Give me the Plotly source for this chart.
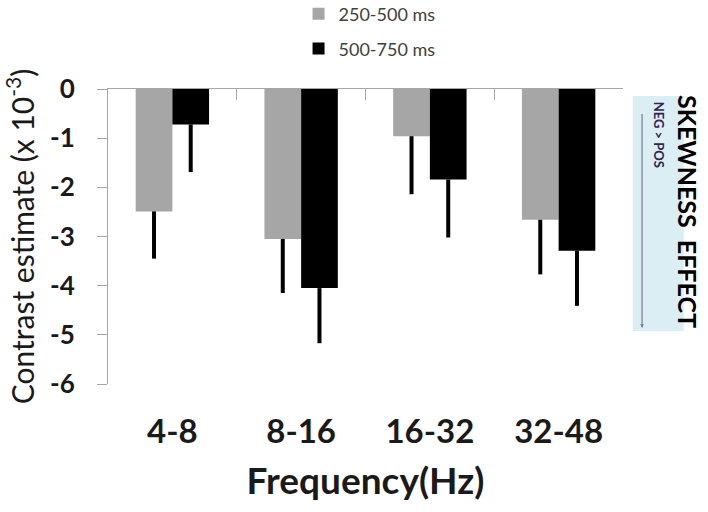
import plotly.graph_objects as go

categories = ["4-8", "8-16", "16-32", "32-48"]
series_names = ["250-500 ms", "500-750 ms"]
early_values = [-2.49, -3.05, -0.96, -2.66]
early_err = [0.96, 1.10, 1.18, 1.11]
late_values = [-0.72, -4.05, -1.84, -3.29]
late_err = [0.97, 1.12, 1.18, 1.12]
y_ticks = [0, -1, -2, -3, -4, -5, -6]
y_tick_labels = ["0", "-1", "-2", "-3", "-4", "-5", "-6"]
boundaries = [-0.5, 0.5, 1.5, 2.5, 3.5]

FONT = "Lato"
AXIS_GRAY = "#a6a6a6"
TXT = "#1a1a1a"

fig = go.Figure()
fig.add_trace(go.Bar(
    x=categories, y=early_values, name=series_names[0],
    marker=dict(color="#a6a6a6", line=dict(width=0)),
    error_y=dict(type="data", symmetric=False, array=[0]*4, arrayminus=early_err,
                 color="black", thickness=4, width=0),
    legend="legend",
))
fig.add_trace(go.Bar(
    x=categories, y=late_values, name=series_names[1],
    marker=dict(color="#000000", line=dict(width=0)),
    error_y=dict(type="data", symmetric=False, array=[0]*4, arrayminus=late_err,
                 color="black", thickness=4, width=0),
    legend="legend2",
))
fig.add_trace(go.Scatter(x=[None], y=[None], xaxis="x2", showlegend=False, hoverinfo="skip"))

fig.update_layout(
    width=708, height=512,
    margin=dict(l=108, r=85, t=89, b=128, autoexpand=False),
    paper_bgcolor="white", plot_bgcolor="white",
    barmode="group", bargap=0.43, bargroupgap=0,
    font=dict(family=FONT, color="black"),
    xaxis=dict(
        type="category", range=[-0.5, 3.5], showline=False, ticks="", showgrid=False,
        zeroline=False,
        tickfont=dict(family=FONT, size=33, color=TXT, weight="bold"),
        ticklabelstandoff=25,
        title=dict(text="Frequency(Hz)", font=dict(family=FONT, size=37, color=TXT, weight="bold"),
                   standoff=19),
        automargin=False,
    ),
    xaxis2=dict(
        overlaying="x", side="top", range=[-0.5, 3.5], tickvals=boundaries,
        ticks="inside", ticklen=11, tickcolor=AXIS_GRAY, tickwidth=1,
        showline=True, linecolor=AXIS_GRAY, linewidth=1,
        showticklabels=False, showgrid=False, zeroline=False, automargin=False,
    ),
    yaxis=dict(
        range=[-6, 0], tickvals=y_ticks, ticktext=y_tick_labels,
        showline=True, linecolor=AXIS_GRAY, linewidth=1,
        ticks="outside", ticklen=10, tickcolor=AXIS_GRAY, tickwidth=1,
        showgrid=False, zeroline=False,
        tickfont=dict(family=FONT, size=26, color=TXT, weight="bold"),
        ticklabelstandoff=17,
        title=dict(text="Contrast estimate (x 10<sup>-3</sup>)",
                   font=dict(family=FONT, size=30, color=TXT), standoff=12),
        automargin=False,
    ),
    legend=dict(x=0.370, xanchor="left", y=1.254, yanchor="middle",
                font=dict(family=FONT, size=18, color="#404040"), bgcolor="rgba(0,0,0,0)"),
    legend2=dict(x=0.370, xanchor="left", y=1.136, yanchor="middle",
                 font=dict(family=FONT, size=18, color="#404040"), bgcolor="rgba(0,0,0,0)"),
    showlegend=True,
)

# Side panel: skewness effect
fig.add_shape(type="rect", xref="paper", yref="paper", x0=1.019, x1=1.118, y0=0.180, y1=0.976,
              fillcolor="#dbeef4", line=dict(width=0), layer="below")
fig.add_annotation(xref="paper", yref="paper", x=1.037, y=0.190, ax=0, ay=-223,
                   axref="pixel", ayref="pixel", showarrow=True, arrowhead=2, arrowsize=0.6,
                   arrowwidth=1.2, arrowcolor="#7a7a96", text=" ")
fig.add_annotation(xref="paper", yref="paper", x=1.126, y=0.583, xanchor="center", yanchor="middle",
                   text="<b>SKEWNESS  EFFECT</b>",
                   textangle=90, showarrow=False, font=dict(family=FONT, size=25, color="black"))
fig.add_annotation(xref="paper", yref="paper", x=1.070, y=0.845, xanchor="center", yanchor="middle",
                   text="<b>NEG &gt; POS</b>",
                   textangle=90, showarrow=False, font=dict(family=FONT, size=13, color="#2e2550"))

fig.write_html("out.html", config={"displayModeBar": False},
               post_script="document.body.style.margin='0';document.body.style.overflow='hidden';")
